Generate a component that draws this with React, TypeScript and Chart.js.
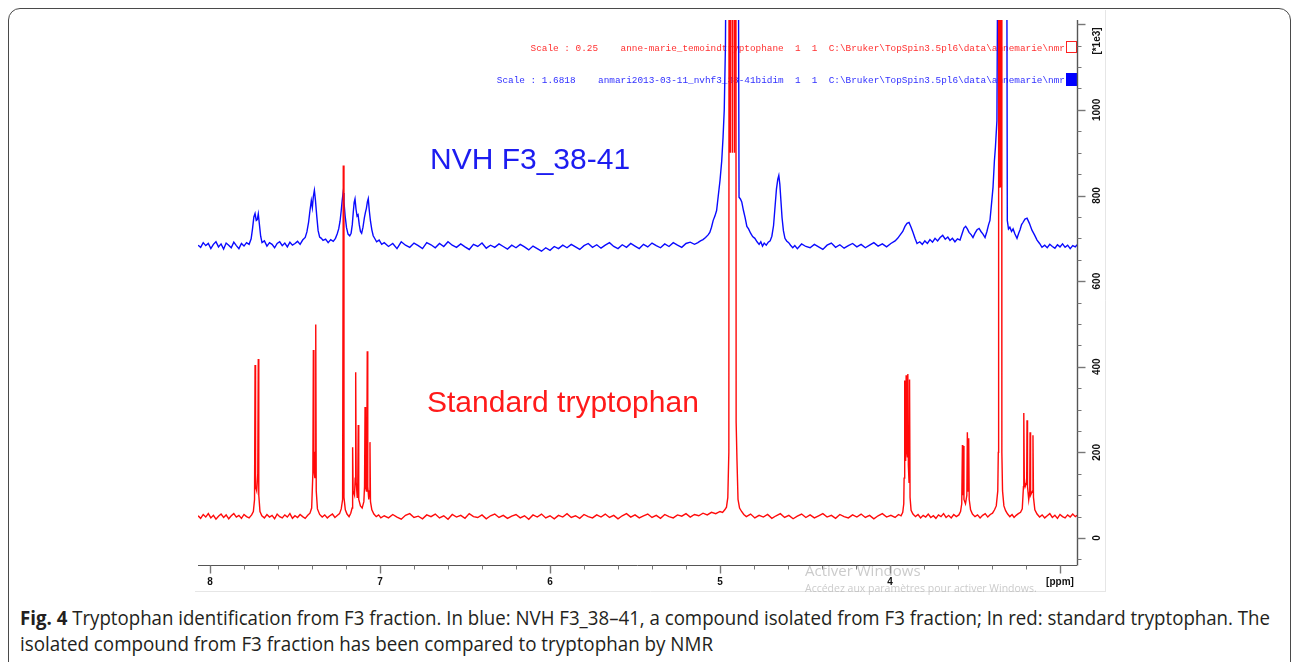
import React, { useEffect, useMemo, useRef } from "react";
import { Chart, registerables } from "chart.js";

Chart.register(...registerables);

type Pt = [number, number];

// ---- Blue spectrum: NVH F3_38-41 (ppm, intensity) ----
const blueAromatic: Pt[] = [
  [8.07, 684], [8.055, 679], [8.04, 690], [8.025, 683], [8.01, 688], [7.995, 676], [7.98, 686], [7.965, 692],
  [7.95, 680], [7.935, 687], [7.92, 675], [7.905, 689], [7.89, 684], [7.875, 678], [7.86, 691], [7.845, 683],
  [7.83, 676], [7.815, 688], [7.8, 682], [7.785, 690], [7.77, 686], [7.758, 699], [7.75, 722], [7.742, 750],
  [7.735, 758], [7.728, 742], [7.722, 744], [7.716, 757], [7.71, 735], [7.702, 705], [7.694, 690], [7.68, 694],
  [7.665, 682], [7.65, 690], [7.635, 686], [7.62, 678], [7.605, 688], [7.59, 692], [7.575, 683], [7.56, 689],
  [7.545, 680], [7.53, 691], [7.515, 684], [7.5, 688], [7.485, 693], [7.47, 686], [7.455, 696], [7.44, 702],
  [7.43, 715], [7.42, 738], [7.412, 765], [7.404, 788], [7.398, 772], [7.392, 798], [7.386, 812], [7.38, 790],
  [7.372, 752], [7.364, 718], [7.355, 703], [7.345, 700], [7.335, 695], [7.32, 698], [7.305, 690], [7.29, 697],
  [7.275, 693], [7.262, 700], [7.252, 710], [7.243, 722], [7.235, 740], [7.228, 765], [7.222, 790], [7.217, 806],
  [7.212, 785], [7.205, 752], [7.197, 725], [7.188, 710], [7.178, 706], [7.17, 712], [7.163, 732], [7.157, 762],
  [7.152, 784], [7.147, 792], [7.141, 768], [7.135, 752], [7.129, 755], [7.122, 732], [7.115, 716], [7.108, 712],
  [7.1, 726], [7.092, 748], [7.086, 760], [7.08, 770], [7.074, 786], [7.069, 793], [7.063, 765], [7.056, 740],
  [7.048, 720], [7.04, 706], [7.03, 699], [7.02, 692], [7.005, 696], [6.99, 686],
];

const blueMiddle: Pt[] = [
  [6.975, 690], [6.95, 681], [6.925, 688], [6.9, 676], [6.875, 692], [6.85, 684], [6.825, 679], [6.8, 689],
  [6.775, 683], [6.75, 676], [6.725, 690], [6.7, 685], [6.675, 678], [6.65, 688], [6.625, 681], [6.6, 692],
  [6.575, 684], [6.55, 679], [6.525, 687], [6.5, 680], [6.475, 674], [6.45, 686], [6.425, 681], [6.4, 689],
  [6.375, 677], [6.35, 684], [6.325, 679], [6.3, 687], [6.275, 681], [6.25, 675], [6.225, 684], [6.2, 678],
  [6.175, 686], [6.15, 680], [6.125, 673], [6.1, 682], [6.075, 676], [6.05, 670], [6.025, 678], [6.0, 672],
  [5.975, 681], [5.95, 676], [5.925, 684], [5.9, 678], [5.875, 686], [5.85, 680], [5.825, 674], [5.8, 683],
  [5.775, 688], [5.75, 679], [5.725, 685], [5.7, 677], [5.675, 684], [5.65, 690], [5.625, 681], [5.6, 676],
  [5.575, 685], [5.55, 679], [5.525, 688], [5.5, 682], [5.475, 676], [5.45, 686], [5.425, 680], [5.4, 689],
  [5.375, 683], [5.35, 678], [5.325, 687], [5.3, 681], [5.275, 690], [5.25, 684], [5.225, 679], [5.2, 688],
  [5.175, 691], [5.15, 686],
];

const blueWater: Pt[] = [
  [5.13, 690], [5.115, 694], [5.1, 697], [5.085, 702], [5.07, 708], [5.06, 714], [5.05, 726], [5.04, 742],
  [5.03, 752], [5.02, 765], [5.01, 800], [5.0, 835], [4.99, 880], [4.982, 936], [4.975, 1000], [4.968, 1150],
  [4.964, 1400], [4.95, 3000], [4.93, 3500], [4.91, 3000], [4.892, 1400], [4.888, 796], [4.88, 792], [4.872, 785],
  [4.862, 765], [4.852, 748], [4.842, 728], [4.832, 722], [4.82, 712], [4.808, 704], [4.795, 700], [4.782, 692],
  [4.77, 686], [4.76, 692], [4.75, 682], [4.74, 689], [4.728, 684], [4.716, 691], [4.705, 694], [4.695, 705],
  [4.685, 730], [4.676, 775], [4.668, 815], [4.66, 838], [4.654, 847], [4.648, 826], [4.642, 790], [4.635, 748],
  [4.627, 718], [4.618, 700], [4.608, 694], [4.596, 690], [4.585, 684], [4.572, 678], [4.56, 683],
];

const blueAliphatic: Pt[] = [
  [4.545, 676], [4.52, 687], [4.495, 681], [4.47, 678], [4.445, 686], [4.42, 680], [4.395, 674], [4.37, 684],
  [4.345, 689], [4.32, 679], [4.295, 685], [4.27, 677], [4.245, 683], [4.22, 688], [4.195, 680], [4.17, 686],
  [4.145, 678], [4.12, 684], [4.095, 690], [4.07, 682], [4.045, 687], [4.02, 680], [3.995, 688], [3.97, 694],
  [3.955, 700], [3.94, 708], [3.925, 716], [3.912, 728], [3.9, 735], [3.888, 737], [3.876, 726], [3.865, 714],
  [3.853, 700], [3.841, 688], [3.825, 692], [3.81, 686], [3.795, 694], [3.78, 688], [3.765, 697], [3.75, 691],
  [3.735, 700], [3.72, 694], [3.705, 702], [3.69, 707], [3.675, 698], [3.66, 703], [3.647, 695], [3.633, 700],
  [3.618, 692], [3.603, 699], [3.588, 696], [3.575, 712], [3.565, 724], [3.555, 728], [3.545, 722], [3.535, 714],
  [3.522, 708], [3.512, 702], [3.5, 712], [3.488, 720], [3.476, 723], [3.465, 716], [3.453, 710], [3.441, 702],
  [3.43, 716], [3.42, 732], [3.412, 742], [3.403, 780], [3.394, 819], [3.386, 880], [3.38, 912], [3.371, 975],
  [3.366, 1400], [3.355, 3000], [3.33, 3000], [3.313, 1400], [3.31, 742], [3.303, 722], [3.295, 726], [3.285, 716],
  [3.276, 722], [3.265, 710], [3.253, 700], [3.243, 712], [3.235, 720], [3.226, 732], [3.218, 737], [3.206, 745],
  [3.194, 747], [3.18, 735], [3.165, 719], [3.15, 708], [3.135, 696], [3.12, 688], [3.106, 679], [3.09, 684],
  [3.075, 678], [3.06, 686], [3.045, 681], [3.03, 677], [3.015, 685], [3.0, 680], [2.985, 687], [2.97, 679],
  [2.955, 684], [2.94, 676], [2.925, 683], [2.91, 680], [2.9, 685],
];

// ---- Red spectrum: standard tryptophan (ppm, intensity) ----
const redAromatic: Pt[] = [
  [8.07, 52], [8.055, 46], [8.04, 55], [8.025, 49], [8.01, 57], [7.995, 47], [7.98, 53], [7.965, 44],
  [7.95, 51], [7.935, 56], [7.92, 48], [7.905, 54], [7.89, 45], [7.875, 52], [7.86, 57], [7.845, 49],
  [7.83, 53], [7.815, 46], [7.8, 55], [7.785, 50], [7.77, 47], [7.755, 54], [7.745, 62], [7.738, 90],
  [7.735, 404], [7.732, 120], [7.725, 110], [7.719, 150], [7.716, 418], [7.713, 100], [7.706, 62], [7.695, 52],
  [7.68, 47], [7.665, 55], [7.65, 49], [7.635, 53], [7.62, 45], [7.605, 56], [7.59, 50], [7.575, 47],
  [7.56, 54], [7.545, 49], [7.53, 57], [7.515, 46], [7.5, 52], [7.485, 48], [7.47, 55], [7.455, 50],
  [7.44, 46], [7.425, 53], [7.412, 58], [7.402, 70], [7.395, 150], [7.392, 439], [7.389, 160], [7.383, 140],
  [7.381, 200], [7.378, 499], [7.375, 110], [7.368, 68], [7.355, 55], [7.34, 49], [7.325, 54], [7.31, 47],
  [7.295, 52], [7.28, 56], [7.265, 48], [7.25, 53], [7.238, 57], [7.228, 68], [7.22, 90], [7.216, 870],
  [7.212, 95], [7.204, 66], [7.194, 56], [7.182, 50], [7.172, 58], [7.164, 70], [7.162, 120], [7.16, 212],
  [7.158, 110], [7.15, 100], [7.146, 140], [7.143, 387], [7.14, 130], [7.134, 95], [7.131, 120], [7.128, 264],
  [7.125, 90], [7.115, 75], [7.105, 70], [7.095, 85], [7.091, 120], [7.088, 306], [7.085, 120], [7.08, 110],
  [7.078, 150], [7.075, 436], [7.072, 120], [7.066, 90], [7.062, 110], [7.059, 224], [7.056, 85], [7.048, 66],
  [7.036, 56], [7.022, 50], [7.008, 54], [6.995, 47],
];

const redMiddle: Pt[] = [
  [6.975, 52], [6.95, 47], [6.925, 55], [6.9, 49], [6.875, 44], [6.85, 53], [6.825, 57], [6.8, 48],
  [6.775, 51], [6.75, 45], [6.725, 54], [6.7, 50], [6.675, 56], [6.65, 47], [6.625, 52], [6.6, 44],
  [6.575, 55], [6.55, 49], [6.525, 53], [6.5, 46], [6.475, 57], [6.45, 50], [6.425, 48], [6.4, 54],
  [6.375, 45], [6.35, 52], [6.325, 56], [6.3, 48], [6.275, 53], [6.25, 46], [6.225, 51], [6.2, 55],
  [6.175, 47], [6.15, 52], [6.125, 44], [6.1, 54], [6.075, 49], [6.05, 56], [6.025, 47], [6.0, 52],
  [5.975, 45], [5.95, 53], [5.925, 49], [5.9, 57], [5.875, 48], [5.85, 52], [5.825, 46], [5.8, 55],
  [5.775, 50], [5.75, 47], [5.725, 54], [5.7, 49], [5.675, 56], [5.65, 48], [5.625, 53], [5.6, 45],
  [5.575, 52], [5.55, 57], [5.525, 49], [5.5, 54], [5.475, 47], [5.45, 52], [5.425, 56], [5.4, 48],
  [5.375, 53], [5.35, 46], [5.325, 55], [5.3, 50], [5.275, 47], [5.25, 54], [5.225, 51], [5.2, 57],
  [5.175, 49], [5.15, 55], [5.125, 52], [5.1, 58], [5.075, 54], [5.05, 60], [5.025, 57], [5.0, 62],
];

const redWater: Pt[] = [
  [4.985, 60], [4.972, 66], [4.962, 72], [4.954, 95], [4.948, 200], [4.945, 3500], [4.939, 900], [4.933, 3500],
  [4.927, 900], [4.921, 3500], [4.915, 900], [4.909, 3500], [4.905, 270], [4.9, 180], [4.894, 90], [4.885, 70],
  [4.873, 62], [4.86, 55],
];

const redAliphatic: Pt[] = [
  [4.845, 50], [4.82, 56], [4.795, 47], [4.77, 53], [4.745, 49], [4.72, 55], [4.695, 46], [4.67, 52],
  [4.645, 57], [4.62, 48], [4.595, 53], [4.57, 45], [4.545, 51], [4.52, 56], [4.495, 48], [4.47, 54],
  [4.445, 47], [4.42, 52], [4.395, 57], [4.37, 49], [4.345, 53], [4.32, 46], [4.295, 55], [4.27, 50],
  [4.245, 47], [4.22, 54], [4.195, 49], [4.17, 56], [4.145, 48], [4.12, 53], [4.095, 45], [4.07, 52],
  [4.045, 57], [4.02, 49], [3.995, 53], [3.97, 48], [3.95, 55], [3.935, 52], [3.925, 60], [3.919, 80],
  [3.917, 140], [3.915, 368], [3.912, 200], [3.908, 180], [3.905, 380], [3.902, 210], [3.898, 190], [3.895, 383],
  [3.892, 170], [3.888, 130], [3.885, 370], [3.882, 95], [3.876, 65], [3.865, 56], [3.85, 50], [3.835, 55],
  [3.82, 47], [3.805, 53], [3.79, 49], [3.775, 56], [3.76, 48], [3.745, 52], [3.73, 46], [3.715, 54],
  [3.7, 50], [3.685, 57], [3.67, 48], [3.655, 53], [3.64, 47], [3.625, 55], [3.61, 50], [3.595, 54],
  [3.585, 62], [3.578, 80], [3.574, 217], [3.571, 100], [3.568, 215], [3.565, 90], [3.556, 80], [3.548, 100],
  [3.545, 247], [3.541, 110], [3.537, 233], [3.534, 90], [3.526, 66], [3.515, 56], [3.5, 50], [3.485, 54],
  [3.47, 47], [3.455, 53], [3.44, 57], [3.425, 49], [3.41, 55], [3.397, 58], [3.385, 66], [3.375, 75],
  [3.366, 110], [3.363, 200], [3.361, 3500], [3.357, 820], [3.353, 3500], [3.349, 820], [3.345, 3500], [3.342, 200],
  [3.338, 110], [3.33, 75], [3.32, 64], [3.308, 56], [3.295, 50], [3.282, 55], [3.27, 48], [3.258, 53],
  [3.245, 57], [3.232, 60], [3.222, 68], [3.215, 120], [3.213, 292], [3.21, 140], [3.205, 120], [3.196, 130],
  [3.194, 275], [3.191, 120], [3.184, 90], [3.178, 110], [3.176, 247], [3.173, 100], [3.162, 110], [3.159, 240],
  [3.156, 95], [3.148, 66], [3.135, 56], [3.12, 49], [3.105, 54], [3.09, 47], [3.075, 52], [3.06, 57],
  [3.045, 48], [3.03, 53], [3.015, 46], [3.0, 55], [2.985, 50], [2.97, 47], [2.955, 54], [2.94, 49],
  [2.925, 56], [2.91, 50], [2.9, 53],
];

// ---- Axes / labels ----
const xRange = { min: 2.9, max: 8.0706 };
const yRange = { min: -63, max: 1210 };
const xTickValues = [8, 7, 6, 5, 4, 3];
const xTickLabels = ["8", "7", "6", "5", "4", "[ppm]"];
const yTickValues = [0, 200, 400, 600, 800, 1000];
const yTickLabels = ["0", "200", "400", "600", "800", "1000"];
const yUnitLabel = "[*1e3]";

const blueName = "NVH F3_38-41";
const redName = "Standard tryptophan";
const redHeader = "Scale : 0.25    anne-marie_temoindtryptophane  1  1  C:\\Bruker\\TopSpin3.5pl6\\data\\annemarie\\nmr";
const blueHeader = "Scale : 1.6818    anmari2013-03-11_nvhf3_38-41bidim  1  1  C:\\Bruker\\TopSpin3.5pl6\\data\\annemarie\\nmr";
const watermark1 = "Activer Windows";
const watermark2 = "Accédez aux paramètres pour activer Windows.";

const captionBold = "Fig. 4";
const captionLine1 =
  " Tryptophan identification from F3 fraction. In blue: NVH F3_38–41, a compound isolated from F3 fraction; In red: standard tryptophan. The";
const captionLine2 = "isolated compound from F3 fraction has been compared to tryptophan by NMR";

const BLUE = "#0a0aff";
const RED = "#ff0a0a";
const CAPTION_FONT = "'Open Sans', 'Noto Sans', sans-serif";

function toXY(parts: Pt[][]) {
  return parts
    .flat()
    .slice()
    .sort((a, b) => b[0] - a[0])
    .map(([x, y]) => ({ x, y }));
}

function measure(text: string, font: string): number {
  const c = document.createElement("canvas").getContext("2d");
  if (!c) return text.length * 9;
  c.font = font;
  return c.measureText(text).width;
}

const decorPlugin = {
  id: "nmrDecor",
  beforeDatasetsDraw(chart: any) {
    const { ctx, chartArea } = chart;
    ctx.save();
    ctx.font = "9.4px 'Liberation Mono', 'Courier New', monospace";
    ctx.textAlign = "right";
    ctx.textBaseline = "middle";
    ctx.fillStyle = "#ff3030";
    ctx.fillText(redHeader, chartArea.right - 12, 49);
    ctx.fillStyle = "#3030ff";
    ctx.fillText(blueHeader, chartArea.right - 12, 81);

    ctx.font = "30px 'Liberation Sans', Arial, sans-serif";
    ctx.textAlign = "left";
    ctx.fillStyle = "#1c1cf0";
    ctx.fillText(blueName, 430, 161);
    ctx.fillStyle = "#ff1a1a";
    ctx.fillText(redName, 427, 404);
    ctx.restore();
  },
  afterDraw(chart: any) {
    const { ctx, chartArea, scales } = chart;
    const xs = scales.x;
    const ys = scales.y;
    ctx.save();

    // legend squares
    ctx.strokeStyle = "#ff2020";
    ctx.lineWidth = 1;
    ctx.fillStyle = "#ffffff";
    ctx.fillRect(chartArea.right - 11, 41, 11, 12);
    ctx.strokeRect(chartArea.right - 10.5, 41.5, 10, 11);
    ctx.fillStyle = "#0000ff";
    ctx.fillRect(chartArea.right - 11, 73, 12, 13);

    // x axis
    ctx.strokeStyle = "#555";
    ctx.lineWidth = 1;
    const yb = Math.round(chartArea.bottom) + 0.5;
    ctx.beginPath();
    ctx.moveTo(chartArea.left, yb);
    ctx.lineTo(chartArea.right, yb);
    ctx.stroke();
    ctx.strokeStyle = "#777";
    for (let i = 15; i <= 40; i++) {
      const v = i / 5;
      const px = Math.round(xs.getPixelForValue(v)) + 0.5;
      const major = i % 5 === 0;
      ctx.lineWidth = major ? 1.4 : 1;
      ctx.beginPath();
      ctx.moveTo(px, yb);
      ctx.lineTo(px, yb + (major ? 8 : 4));
      ctx.stroke();
    }
    ctx.fillStyle = "#111";
    ctx.font = "bold 10px 'Liberation Sans', Arial, sans-serif";
    ctx.textAlign = "center";
    ctx.textBaseline = "middle";
    xTickValues.forEach((v, i) => {
      ctx.fillText(xTickLabels[i], xs.getPixelForValue(v), yb + 17);
    });

    // y axis (right)
    const xr = Math.round(chartArea.right) + 0.5;
    ctx.strokeStyle = "#555";
    ctx.beginPath();
    ctx.moveTo(xr, chartArea.top);
    ctx.lineTo(xr, yb);
    ctx.stroke();
    ctx.strokeStyle = "#777";
    for (let v = -50; v <= 1200; v += 50) {
      const py = Math.round(ys.getPixelForValue(v)) + 0.5;
      if (py < chartArea.top + 2) continue;
      const major = v % 200 === 0;
      ctx.lineWidth = major ? 1.4 : 1;
      ctx.beginPath();
      ctx.moveTo(xr, py);
      ctx.lineTo(xr + (major ? 8 : 4), py);
      ctx.stroke();
    }
    ctx.fillStyle = "#111";
    yTickValues.forEach((v, i) => {
      ctx.save();
      ctx.translate(xr + 20, ys.getPixelForValue(v));
      ctx.rotate(-Math.PI / 2);
      ctx.fillText(yTickLabels[i], 0, 0);
      ctx.restore();
    });
    ctx.save();
    ctx.translate(xr + 20, 41);
    ctx.rotate(-Math.PI / 2);
    ctx.fillText(yUnitLabel, 0, 0);
    ctx.restore();

    // screenshot frame lines
    ctx.strokeStyle = "#e6e6e6";
    ctx.lineWidth = 1;
    ctx.beginPath();
    ctx.moveTo(195, 591.5);
    ctx.lineTo(1106, 591.5);
    ctx.moveTo(1105.5, 10);
    ctx.lineTo(1105.5, 591.5);
    ctx.stroke();

    // watermark
    ctx.textAlign = "left";
    ctx.fillStyle = "rgba(160,160,160,0.55)";
    ctx.font = "15px 'Open Sans', sans-serif";
    ctx.fillText(watermark1, 805, 572);
    ctx.font = "10.5px 'Open Sans', sans-serif";
    ctx.fillText(watermark2, 805, 589);
    ctx.restore();
  },
};

export default function App() {
  const canvasRef = useRef<HTMLCanvasElement | null>(null);

  const cap = useMemo(() => {
    const f = `400 20px ${CAPTION_FONT}`;
    const fb = `700 20px ${CAPTION_FONT}`;
    const w1 = measure(captionBold, fb) + measure(captionLine1, f);
    const w2 = measure(captionLine2, f);
    return { k1: 1250 / w1, k2: 693 / w2 };
  }, []);

  useEffect(() => {
    if (!canvasRef.current) return;
    const chart = new Chart(canvasRef.current, {
      type: "line",
      data: {
        datasets: [
          {
            label: redName,
            data: toXY([redAromatic, redMiddle, redWater, redAliphatic]),
            borderColor: RED,
            borderWidth: 1.4,
            pointRadius: 0,
            tension: 0,
            fill: false,
          },
          {
            label: blueName,
            data: toXY([blueAromatic, blueMiddle, blueWater, blueAliphatic]),
            borderColor: BLUE,
            borderWidth: 1.4,
            pointRadius: 0,
            tension: 0,
            fill: false,
          },
        ],
      },
      options: {
        responsive: false,
        animation: false,
        events: [],
        layout: { padding: { left: 198, right: 215, top: 20, bottom: 35 } },
        scales: {
          x: { type: "linear", reverse: true, min: xRange.min, max: xRange.max, display: false },
          y: { type: "linear", min: yRange.min, max: yRange.max, display: false },
        },
        plugins: { legend: { display: false }, tooltip: { enabled: false } },
      },
      plugins: [decorPlugin],
    } as any);
    return () => chart.destroy();
  }, []);

  const captionStyle: React.CSSProperties = {
    position: "absolute",
    left: 20,
    whiteSpace: "pre",
    fontFamily: CAPTION_FONT,
    fontSize: 20,
    lineHeight: "20px",
    color: "#231f20",
    transformOrigin: "0 0",
  };

  return (
    <div
      style={{
        position: "absolute",
        left: 0,
        top: 0,
        width: 1292,
        height: 662,
        overflow: "hidden",
        background: "#fff",
      }}
    >
      <div
        style={{
          position: "absolute",
          left: 8,
          top: 8,
          width: 1283,
          height: 720,
          border: "1px solid #4a4a4a",
          borderRadius: 12,
          boxSizing: "border-box",
        }}
      />
      <canvas
        ref={canvasRef}
        width={1292}
        height={600}
        style={{ position: "absolute", left: 0, top: 0, width: 1292, height: 600 }}
      />
      <div style={{ ...captionStyle, top: 608, transform: `scaleX(${cap.k1})` }}>
        <b>{captionBold}</b>
        {captionLine1}
      </div>
      <div style={{ ...captionStyle, top: 634, transform: `scaleX(${cap.k2})` }}>{captionLine2}</div>
    </div>
  );
}
